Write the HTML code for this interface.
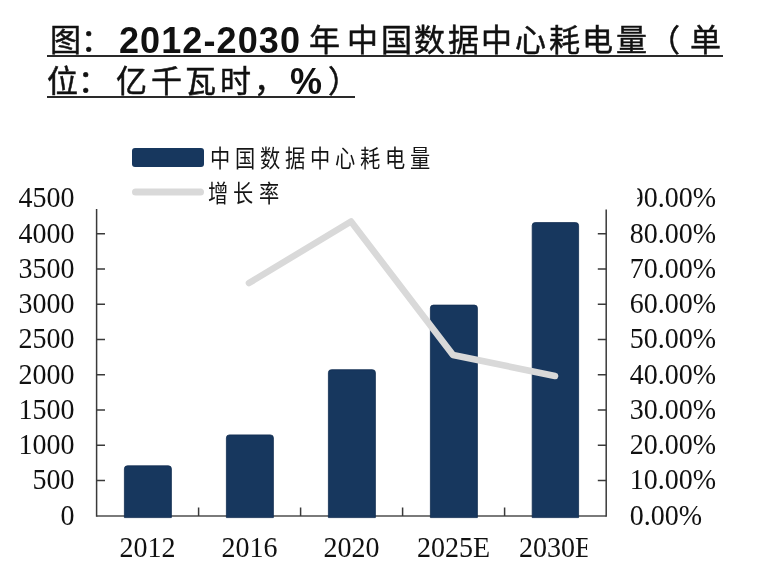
<!DOCTYPE html>
<html lang="zh-CN">
<head>
<meta charset="utf-8">
<style>
html,body{margin:0;padding:0;background:#fff;}
body{width:760px;height:578px;position:relative;overflow:hidden;font-family:"Liberation Sans",sans-serif;}
.c{position:absolute;white-space:nowrap;color:#111;font-size:31px;line-height:40px;}
.ul{position:absolute;left:47px;height:2.2px;background:#2a2a2a;}
.num{font-family:"Liberation Sans",sans-serif;font-weight:bold;font-size:36px;letter-spacing:1.1px;}
svg{position:absolute;left:0;top:0;will-change:transform;}
.c{will-change:transform;-webkit-text-stroke:0.5px #111;}
.num{-webkit-text-stroke:0;}
</style>
</head>
<body>
<div class="ul" style="top:54.5px;width:676px"></div>
<div class="ul" style="top:95.8px;width:308px"></div>
<span class="c" style="left:49.5px;top:20.5px">图：</span>
<span class="c num" style="left:118.6px;top:20.5px">2012-2030</span>
<span class="c" style="left:308.8px;top:20.5px">年</span>
<span class="c" style="left:347px;top:20.5px;letter-spacing:2.6px">中国数据中心耗电量（</span>
<span class="c" style="left:690px;top:20.5px">单</span>
<span class="c" style="left:46.6px;top:61.5px">位：</span>
<span class="c" style="left:116px;top:61.5px;letter-spacing:3.5px">亿千瓦时，</span>
<span class="c num" style="left:290px;top:61.5px">%</span>
<span class="c" style="left:327.7px;top:61.5px">）</span>

<svg width="760" height="578" viewBox="0 0 760 578">
  <!-- legend -->
  <rect x="132" y="148" width="72" height="19" rx="3" fill="#17375e"/>
  <line x1="135.5" y1="192" x2="200.5" y2="192" stroke="#d9d9d9" stroke-width="7" stroke-linecap="round"/>
  <g font-family="Liberation Serif, serif" font-size="23" fill="#151515">
    <text transform="translate(210 166.8) scale(0.88 1.05)" letter-spacing="5.75">中国数据中心耗电量</text>
    <text transform="translate(208 201.8) scale(0.88 1.05)" letter-spacing="6.1">增长率</text>
  </g>
  <!-- axes -->
  <path d="M96.6 515.9 H606.2" stroke="#7a7a7a" stroke-width="2" fill="none"/>
  <g stroke="#3a3a3a" stroke-width="1.5" fill="none">
    <path d="M96.6 209 V516.8 M606.2 209.5 V516.8"/>
    <path d="M96.6 480.55h8.4 M96.6 445.30h8.4 M96.6 410.05h8.4 M96.6 374.80h8.4 M96.6 339.55h8.4 M96.6 304.30h8.4 M96.6 269.05h8.4 M96.6 233.80h8.4"/>
    <path d="M606.2 480.55h-8.4 M606.2 445.30h-8.4 M606.2 410.05h-8.4 M606.2 374.80h-8.4 M606.2 339.55h-8.4 M606.2 304.30h-8.4 M606.2 269.05h-8.4 M606.2 233.80h-8.4"/>
    <path d="M198.6 516v-8.4 M300.6 516v-8.4 M402.6 516v-8.4 M504.6 516v-8.4"/>
  </g>
  <!-- bars -->
  <g fill="#17375e" stroke="#112d50" stroke-width="0.8">
    <path d="M124.4 517.6 V468.8 Q124.4 465.8 127.4 465.8 H168.4 Q171.4 465.8 171.4 468.8 V517.6 Z"/>
    <path d="M226.4 517.6 V437.9 Q226.4 434.9 229.4 434.9 H270.4 Q273.4 434.9 273.4 437.9 V517.6 Z"/>
    <path d="M328.4 517.6 V372.7 Q328.4 369.7 331.4 369.7 H372.4 Q375.4 369.7 375.4 372.7 V517.6 Z"/>
    <path d="M430.4 517.6 V308.1 Q430.4 305.1 433.4 305.1 H474.4 Q477.4 305.1 477.4 308.1 V517.6 Z"/>
    <path d="M532.2 517.6 V225.6 Q532.2 222.6 535.2 222.6 H575.6 Q578.6 222.6 578.6 225.6 V517.6 Z"/>
  </g>
  <!-- line -->
  <polyline points="249,283 351,221.5 453,355 555,376" fill="none" stroke="#d9d9d9" stroke-width="6.6" stroke-linecap="round" stroke-linejoin="round"/>
  <!-- left labels -->
  <g font-family="Liberation Serif, serif" font-size="28" fill="#111" text-anchor="end">
    <text transform="translate(74.5 524.60) scale(1 1.055)">0</text>
    <text transform="translate(74.5 489.35) scale(1 1.055)">500</text>
    <text transform="translate(74.5 454.10) scale(1 1.055)">1000</text>
    <text transform="translate(74.5 418.85) scale(1 1.055)">1500</text>
    <text transform="translate(74.5 383.60) scale(1 1.055)">2000</text>
    <text transform="translate(74.5 348.35) scale(1 1.055)">2500</text>
    <text transform="translate(74.5 313.10) scale(1 1.055)">3000</text>
    <text transform="translate(74.5 277.85) scale(1 1.055)">3500</text>
    <text transform="translate(74.5 242.60) scale(1 1.055)">4000</text>
    <text transform="translate(74.5 207.35) scale(1 1.055)">4500</text>
  </g>
  <!-- right labels -->
  <g font-family="Liberation Serif, serif" font-size="28" fill="#111">
    <text transform="translate(629.8 524.60) scale(1 1.055)">0.00%</text>
    <text transform="translate(629.8 489.35) scale(1 1.055)">10.00%</text>
    <text transform="translate(629.8 454.10) scale(1 1.055)">20.00%</text>
    <text transform="translate(629.8 418.85) scale(1 1.055)">30.00%</text>
    <text transform="translate(629.8 383.60) scale(1 1.055)">40.00%</text>
    <text transform="translate(629.8 348.35) scale(1 1.055)">50.00%</text>
    <text transform="translate(629.8 313.10) scale(1 1.055)">60.00%</text>
    <text transform="translate(629.8 277.85) scale(1 1.055)">70.00%</text>
    <text transform="translate(629.8 242.60) scale(1 1.055)">80.00%</text>
    <text transform="translate(629.8 207.35) scale(1 1.055)">90.00%</text>
  </g>
  <rect x="620" y="185" width="17.3" height="30" fill="#fff"/>
  <!-- x labels -->
  <g font-family="Liberation Serif, serif" font-size="28" fill="#111" text-anchor="middle">
    <text transform="translate(147.6 557.2) scale(1 1.055)">2012</text>
    <text transform="translate(249.6 557.2) scale(1 1.055)">2016</text>
    <text transform="translate(351.6 557.2) scale(1 1.055)">2020</text>
    <text transform="translate(453.6 557.2) scale(1 1.055)">2025E</text>
    <text transform="translate(555.6 557.2) scale(1 1.055)">2030E</text>
  </g>
  <rect x="587.6" y="530" width="20" height="40" fill="#fff"/>
</svg>
</body>
</html>
